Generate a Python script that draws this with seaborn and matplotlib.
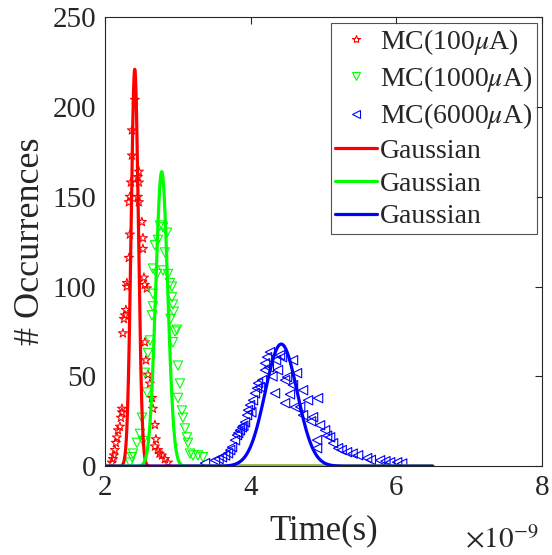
import numpy as np
import pandas as pd
import matplotlib
matplotlib.use("Agg")
import matplotlib.pyplot as plt
from matplotlib.lines import Line2D
import seaborn as sns

# ---------------- data (time in units of 1e-9 s) ----------------
mc100_t = [2.343, 2.357, 2.371, 2.371, 2.412, 2.330, 2.343, 2.330, 2.302, 2.302,
           2.288, 2.275, 2.261, 2.247, 2.234, 2.234, 2.220, 2.206, 2.179, 2.165,
           2.151, 2.137, 2.124, 2.110, 2.096,
           2.467, 2.453, 2.467, 2.453, 2.467, 2.508, 2.522, 2.522, 2.536, 2.549,
           2.577, 2.549, 2.563, 2.591, 2.618, 2.646, 2.659, 2.687, 2.687, 2.728,
           2.783, 2.824, 2.865, 2.700, 2.750]
mc100_n = [150, 158, 173, 187, 204, 147, 129, 116, 102, 100,
           87, 84, 82, 74, 32, 30, 27, 22, 20, 16,
           13, 9, 6, 4, 2,
           164, 161, 158, 150, 147, 136, 127, 121, 105, 101,
           99, 69, 59, 51, 46, 38, 32, 23, 11, 9,
           6, 4, 2, 15, 7]

mc1000_t = [2.343, 2.371, 2.385, 2.440, 2.481, 2.508, 2.522, 2.549, 2.577, 2.591,
            2.618, 2.646, 2.659, 2.659, 2.659, 2.687, 2.714, 2.728, 2.755, 2.797,
            2.797, 2.824, 2.852, 2.865, 2.893, 2.920, 2.920, 2.934, 2.962, 2.934,
            2.989, 3.003, 3.030, 3.003, 3.058, 3.071, 3.099, 3.126, 3.140, 3.168,
            3.209, 3.277, 3.346, 2.900, 2.945]
mc1000_n = [2, 5, 7, 13, 18, 27, 14, 52, 41, 63,
            70, 84, 89, 96, 110, 123, 107, 126, 134, 133,
            109, 119, 130, 107, 102, 100, 94, 90, 75, 69,
            76, 56, 46, 38, 31, 27, 21, 16, 13, 7,
            6, 6, 5, 82, 86]

mc6000_t = [3.374, 3.511, 3.607, 3.690, 3.745, 3.786, 3.813, 3.854, 3.882, 3.923,
            3.951, 3.964, 3.992, 4.033, 4.060, 4.088, 4.102, 4.157, 4.198, 4.198,
            4.225, 4.335, 4.376, 4.431, 4.473, 4.473, 4.500, 4.582, 4.582, 4.637,
            4.720, 4.788, 4.720, 4.610, 4.857, 4.926, 4.953, 5.022, 5.091, 4.912,
            5.132, 4.912, 5.201, 5.324, 5.475, 5.599, 5.777, 5.915, 6.011, 4.266,
            4.404, 4.349, 3.560, 3.650, 3.720, 4.010, 4.130, 4.250, 4.300, 4.540,
            4.680, 4.830, 5.050, 5.250, 5.400, 5.650, 5.850, 6.080, 3.830, 3.900]
mc6000_n = [1.7, 3.3, 5.0, 7.2, 10.6, 14.5, 17.3, 20.0, 21.7, 24.5,
            28.4, 31.2, 34.0, 36.7, 40.6, 43.4, 46.2, 47.9, 53.5, 57.3,
            60.7, 40.6, 53.5, 60.7, 47.9, 35.1, 49.6, 59.0, 45.1, 51.8,
            42.3, 36.7, 28.4, 32.9, 27.3, 37.9, 22.8, 20.0, 16.1, 14.5,
            12.8, 10.0, 10.0, 7.8, 6.1, 4.5, 3.3, 2.2, 2.2, 63.5,
            61.8, 59.0, 4.0, 6.0, 9.0, 30.0, 44.0, 55.0, 50.0, 40.0,
            33.0, 25.0, 17.0, 9.0, 7.0, 3.5, 2.8, 1.5, 18.5, 22.5]

# Gaussian fits: centre (1e-9 s), sigma (1e-9 s), peak height
gauss_labels = ["Gaussian", "Gaussian", "Gaussian"]
gauss_mu = [2.41, 2.78, 4.42]
gauss_sigma = [0.050, 0.082, 0.22]
gauss_peak = [221, 164, 68]
fit_range = [2.0, 6.5]

mc_labels = [r"MC(100$\mu$A)", r"MC(1000$\mu$A)", r"MC(6000$\mu$A)"]
x_ticks = [2, 4, 6, 8]
y_ticks = [0, 50, 100, 150, 200, 250]

# ---------------- style ----------------
sns.set_theme(style="white")
plt.rcParams["font.family"] = ["Liberation Serif", "DejaVu Serif"]
plt.rcParams["mathtext.fontset"] = "stix"

colors = ["#ff0000", "#00ff00", "#0000ff"]
markers = ["*", "v", "<"]
ink = "#262626"

fig = plt.figure(figsize=(5.52, 5.55), dpi=100)
ax = fig.add_axes([0.190, 0.160, 0.792, 0.809])

mc_sets = [(mc100_t, mc100_n), (mc1000_t, mc1000_n), (mc6000_t, mc6000_n)]
for (t, n), c, m in zip(mc_sets, colors, markers):
    df = pd.DataFrame({"t": t, "n": n})
    sns.scatterplot(data=df, x="t", y="n", ax=ax, marker=m, s=45,
                    facecolor="none", edgecolor=c, linewidth=0.8, zorder=2)

grid = np.linspace(fit_range[0], fit_range[1], 1200)
for mu, sg, pk, c in zip(gauss_mu, gauss_sigma, gauss_peak, colors):
    dfg = pd.DataFrame({"t": grid, "n": pk * np.exp(-0.5 * ((grid - mu) / sg) ** 2)})
    sns.lineplot(data=dfg, x="t", y="n", ax=ax, color=c, linewidth=2.3,
                 estimator=None, sort=False, zorder=3)

ax.set_xlim(2, 8)
ax.set_ylim(0, 250)
ax.set_xticks(x_ticks)
ax.set_yticks(y_ticks)
ax.tick_params(direction="in", length=5, width=0.8, top=True, right=True,
               labelsize=21, colors=ink, pad=6)
for s in ax.spines.values():
    s.set_color(ink)
    s.set_linewidth(0.8)
ax.set_xlabel("Time(s)", fontsize=25, color=ink, labelpad=10)
ax.set_ylabel("# Occurrences", fontsize=26, color=ink, labelpad=4)
fig.text(0.842, 0.012, r"$\times10^{-9}$", fontsize=21, color=ink)

handles = []
for c, m, lab in zip(colors, markers, mc_labels):
    handles.append(Line2D([], [], linestyle="none", marker=m, markersize=6,
                          markerfacecolor="none", markeredgecolor=c,
                          markeredgewidth=0.8, label=lab))
for c, lab in zip(colors, gauss_labels):
    handles.append(Line2D([], [], color=c, linewidth=2.3, label=lab))
leg = ax.legend(handles=handles, loc="upper right", fontsize=20,
                frameon=True, fancybox=False, edgecolor=ink,
                borderaxespad=0.2, handlelength=1.5, handletextpad=0.1,
                labelspacing=0.26, borderpad=0.15)
leg.get_frame().set_linewidth(0.8)

fig.savefig("out.png", dpi=100)
